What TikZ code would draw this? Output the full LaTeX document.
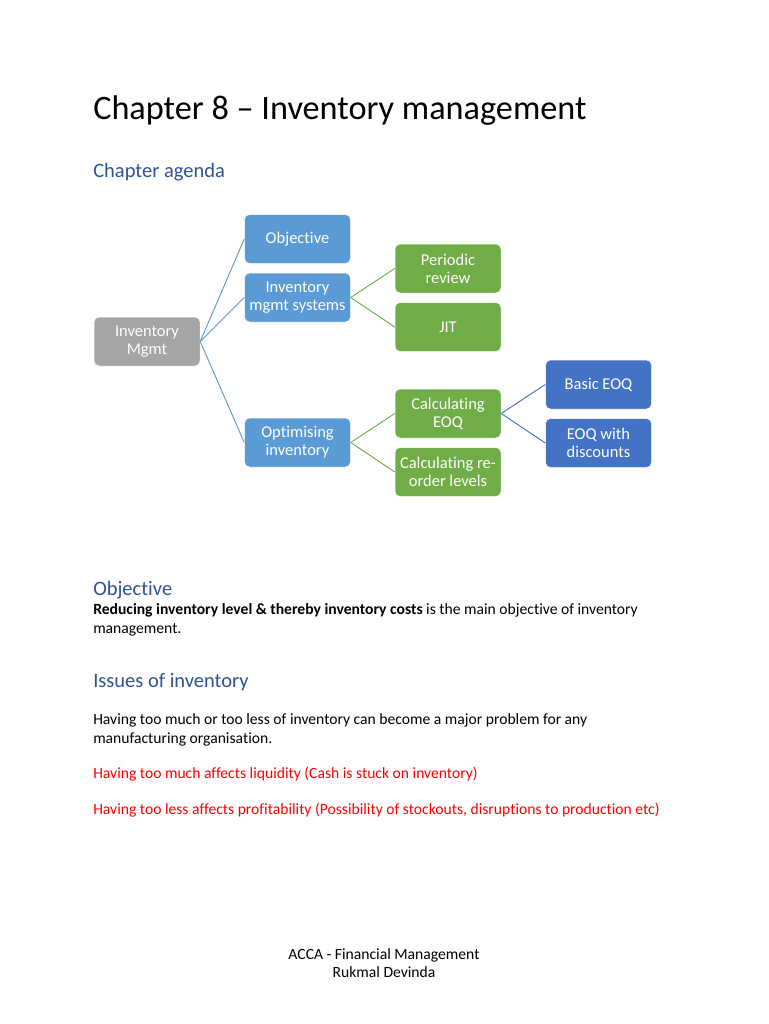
\documentclass[tikz,border=0pt]{standalone}
\usepackage{fontspec}
\setmainfont{Carlito}[Ligatures=NoCommon]
\usetikzlibrary{positioning}
\definecolor{headblue}{RGB}{47,84,150}
\definecolor{rootgray}{RGB}{165,165,165}
\definecolor{levelblue}{RGB}{91,155,213}
\definecolor{stagegreen}{RGB}{112,173,71}
\definecolor{leafblue}{RGB}{68,114,196}
\definecolor{alertred}{RGB}{255,0,0}

\begin{document}
\begin{tikzpicture}[
    x=0.8pt, y=-0.8pt,
    node distance=7.2pt,
    box/.style={rectangle, draw=white, line width=0.4pt,
                minimum width=84.8pt, minimum height=39.2pt,
                rounded corners=4pt, text=white, align=center,
                inner sep=1pt, font=\fontsize{13.2}{14.4}\selectfont},
    rootbox/.style={box, fill=rootgray},
    levelbox/.style={box, fill=levelblue},
    stagebox/.style={box, fill=stagegreen},
    leafbox/.style={box, fill=leafblue},
    link/.style={line width=0.75pt},
    heading/.style={anchor=base west, inner sep=0pt, text=headblue,
                    font=\fontsize{16.4}{19}\selectfont},
    body/.style={anchor=base west, inner sep=0pt,
                 font=\fontsize{12.5}{15}\selectfont}
]
\useasboundingbox (0,0) rectangle (768,1024);
\fill[white] (0,0) rectangle (768,1024);

% Titles
\node[anchor=base west, inner sep=0pt, font=\fontsize{27.4}{33}\selectfont] (title) at (93,120) {Chapter 8 -- Inventory management};
\node[heading] (agenda) at (93,178) {Chapter agenda};

% Root
\node[rootbox] (root) at (147,341.5) {Inventory\\Mgmt};

% First level
\node[levelbox, right=35.2pt of root, yshift=35.2pt] (systems) {Inventory\\mgmt systems};
\node[levelbox, above=of systems] (objective) {Objective};
\node[levelbox, right=35.2pt of root, yshift=-80.8pt] (optimise) {Optimising\\inventory};

% Second level
\node[stagebox, right=35.2pt of systems, yshift=23.2pt] (periodic) {Periodic\\review};
\node[stagebox, below=of periodic] (jit) {JIT};
\node[stagebox, right=35.2pt of optimise, yshift=23.2pt] (calceoq) {Calculating\\EOQ};
\node[stagebox, below=of calceoq] (reorder) {Calculating re-\\order levels};

% Third level
\node[leafbox, right=35.2pt of calceoq, yshift=23.2pt] (basiceoq) {Basic EOQ};
\node[leafbox, below=of basiceoq] (discounts) {EOQ with\\discounts};

% Connectors
\draw[link, levelblue] (root.east) -- (objective.west);
\draw[link, levelblue] (root.east) -- (systems.west);
\draw[link, levelblue] (root.east) -- (optimise.west);
\draw[link, stagegreen] (systems.east) -- (periodic.west);
\draw[link, stagegreen] (systems.east) -- (jit.west);
\draw[link, stagegreen] (optimise.east) -- (calceoq.west);
\draw[link, stagegreen] (optimise.east) -- (reorder.west);
\draw[link, leafblue] (calceoq.east) -- (basiceoq.west);
\draw[link, leafblue] (calceoq.east) -- (discounts.west);

% Objective
\node[heading] (objhead) at (93,595) {Objective};
\node[body] (objline1) at (93,614) {\textbf{Reducing inventory level \& thereby inventory costs} is the main objective of inventory};
\node[body] (objline2) at (93,633) {management.};

% Issues of inventory
\node[heading] (issuehead) at (93,687) {Issues of inventory};
\node[body] (issueline1) at (93,724) {Having too much or too less of inventory can become a major problem for any};
\node[body] (issueline2) at (93,743) {manufacturing organisation.};
\node[body, text=alertred] (muchline) at (93,778) {Having too much affects liquidity (Cash is stuck on inventory)};
\node[body, text=alertred] (lessline) at (93,814) {Having too less affects profitability (Possibility of stockouts, disruptions to production etc)};

% Footer
\node[body, anchor=base] (footer1) at (384,959) {ACCA - Financial Management};
\node[body, anchor=base] (footer2) at (384,977) {Rukmal Devinda};

\end{tikzpicture}
\end{document}
